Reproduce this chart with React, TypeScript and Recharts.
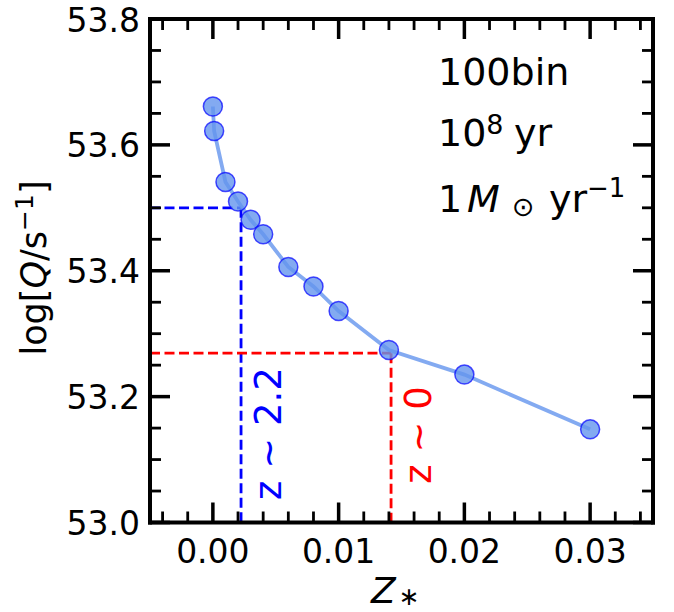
import { ComposedChart, Line, XAxis, YAxis, ReferenceLine } from "recharts";

// metallicity and ionising photon rate
const Z_STAR = [0.0, 0.0001, 0.001, 0.002, 0.003, 0.004, 0.006, 0.008, 0.01, 0.014, 0.02, 0.03];
const LOG_Q = [53.661, 53.622, 53.541, 53.51, 53.481, 53.458, 53.406, 53.375, 53.336, 53.274, 53.235, 53.148];

// the two redshift markers
const HIGH_Z = { z: 0.00224, q: 53.5 };
const LOW_Z = { z: 0.01417, q: 53.269 };

const X_DOMAIN = [-0.005, 0.035];
const Y_DOMAIN = [53.0, 53.8];
const X_TICKS = [-0.004, -0.002, 0, 0.002, 0.004, 0.006, 0.008, 0.01, 0.012, 0.014, 0.016, 0.018, 0.02, 0.022, 0.024, 0.026, 0.028, 0.03, 0.032, 0.034];
const Y_TICKS = [53.0, 53.05, 53.1, 53.15, 53.2, 53.25, 53.3, 53.35, 53.4, 53.45, 53.5, 53.55, 53.6, 53.65, 53.7, 53.75, 53.8];

const FONT = "DejaVu Sans";
const W = 674;
const H = 612;

const data = Z_STAR.map((z, i) => ({ z, logQ: LOG_Q[i] }));

const isMajorX = (v: number) => Math.abs(v * 100 - Math.round(v * 100)) < 1e-6;
const isMajorY = (v: number) => Math.abs(v * 5 - Math.round(v * 5)) < 1e-6;

const MAJOR = 20;
const MINOR = 11;

function BottomTick({ x, y, payload }: any) {
  const major = isMajorX(payload.value);
  return (
    <g>
      <line x1={x} y1={y} x2={x} y2={y - (major ? MAJOR : MINOR)} stroke="#000" strokeWidth={major ? 3.5 : 2.8} />
      {major && (
        <text x={x} y={y + 40.5} textAnchor="middle" fontFamily={FONT} fontSize={33} fill="#000">
          {payload.value.toFixed(2)}
        </text>
      )}
    </g>
  );
}

function TopTick({ x, y, payload }: any) {
  const major = isMajorX(payload.value);
  return <line x1={x} y1={y} x2={x} y2={y + (major ? MAJOR : MINOR)} stroke="#000" strokeWidth={major ? 3.5 : 2.8} />;
}

function LeftTick({ x, y, payload }: any) {
  const major = isMajorY(payload.value);
  return (
    <g>
      <line x1={x} y1={y} x2={x + (major ? MAJOR : MINOR)} y2={y} stroke="#000" strokeWidth={major ? 3.5 : 2.8} />
      {major && (
        <text x={x - 10} y={y + 12.5} textAnchor="end" fontFamily={FONT} fontSize={33} fill="#000">
          {payload.value.toFixed(1)}
        </text>
      )}
    </g>
  );
}

function RightTick({ x, y, payload }: any) {
  const major = isMajorY(payload.value);
  return <line x1={x} y1={y} x2={x - (major ? MAJOR : MINOR)} y2={y} stroke="#000" strokeWidth={major ? 3.5 : 2.8} />;
}

const frame = { stroke: "#000", strokeWidth: 4, strokeLinecap: "square" as const };

export default function App() {
  return (
    <div style={{ position: "absolute", left: 0, top: 0, width: W, height: H, background: "#fff" }}>
      <ComposedChart width={W} height={H} data={data} margin={{ top: 18, right: 20, bottom: 88.5, left: 149 }}>
        <XAxis xAxisId="b" dataKey="z" type="number" domain={X_DOMAIN} allowDataOverflow ticks={X_TICKS} interval={0}
          height={1} tickSize={0} tickMargin={0} tickLine={false} axisLine={frame} tick={<BottomTick />} />
        <XAxis xAxisId="t" orientation="top" dataKey="z" type="number" domain={X_DOMAIN} allowDataOverflow ticks={X_TICKS} interval={0}
          height={1} tickSize={0} tickMargin={0} tickLine={false} axisLine={frame} tick={<TopTick />} />
        <YAxis yAxisId="l" type="number" domain={Y_DOMAIN} allowDataOverflow ticks={Y_TICKS} interval={0}
          width={1} tickSize={0} tickMargin={0} tickLine={false} axisLine={frame} tick={<LeftTick />} />
        <YAxis yAxisId="r" orientation="right" type="number" domain={Y_DOMAIN} allowDataOverflow ticks={Y_TICKS} interval={0}
          width={1} tickSize={0} tickMargin={0} tickLine={false} axisLine={frame} tick={<RightTick />} />

        <ReferenceLine xAxisId="b" yAxisId="l" segment={[{ x: X_DOMAIN[0], y: HIGH_Z.q }, { x: HIGH_Z.z, y: HIGH_Z.q }]}
          stroke="#0000ff" strokeWidth={2.8} strokeDasharray="10 4.5" />
        <ReferenceLine xAxisId="b" yAxisId="l" segment={[{ x: HIGH_Z.z, y: HIGH_Z.q }, { x: HIGH_Z.z, y: Y_DOMAIN[0] }]}
          stroke="#0000ff" strokeWidth={2.8} strokeDasharray="10 4.5" />
        <ReferenceLine xAxisId="b" yAxisId="l" segment={[{ x: X_DOMAIN[0], y: LOW_Z.q }, { x: LOW_Z.z, y: LOW_Z.q }]}
          stroke="#ff0000" strokeWidth={2.8} strokeDasharray="10 4.5" />
        <ReferenceLine xAxisId="b" yAxisId="l" segment={[{ x: LOW_Z.z, y: LOW_Z.q }, { x: LOW_Z.z, y: Y_DOMAIN[0] }]}
          stroke="#ff0000" strokeWidth={2.8} strokeDasharray="10 4.5" />

        <Line xAxisId="b" yAxisId="l" type="linear" dataKey="logQ" isAnimationActive={false}
          stroke="#6495ED" strokeOpacity={0.8} strokeWidth={3.8}
          dot={{ r: 9.5, fill: "#6495ED", fillOpacity: 0.8, stroke: "#0000ff", strokeOpacity: 0.7, strokeWidth: 1.5 }}
          activeDot={false} />
      </ComposedChart>

      <svg width={W} height={H} style={{ position: "absolute", left: 0, top: 0, pointerEvents: "none" }} fontFamily={FONT}>
        {/* axis titles */}
        <text x={46} y={268} transform="rotate(-90 46 268)" textAnchor="middle" fontSize={35} fill="#000">
          log[<tspan fontStyle="italic">Q</tspan>/s<tspan fontSize={25} dy={-13}>−1</tspan><tspan dy={13}>]</tspan>
        </text>
        <text x={371} y={603} fontSize={36} fill="#000">
          <tspan fontStyle="italic">Z</tspan><tspan fontSize={25} dx={3} dy={2}>∗</tspan>
        </text>

        {/* model notes */}
        <text x={438} y={84.5} fontSize={38} fill="#000">100bin</text>
        <text x={438} y={146} fontSize={38} fill="#000">
          10<tspan fontSize={27} dy={-12}>8</tspan><tspan x={514} dy={12}>yr</tspan>
        </text>
        <text x={438} y={212} fontSize={38} fill="#000">
          1<tspan x={467} fontStyle="italic">M</tspan>
          <tspan x={512} fontSize={27} dy={4}>⊙</tspan>
          <tspan x={549} dy={-4}>yr</tspan>
          <tspan x={587} fontSize={26} dy={-15}>−1</tspan>
        </text>

        {/* redshift labels */}
        <text x={281} y={433.5} transform="rotate(-90 281 433.5)" textAnchor="middle" fontSize={37} fill="#0000ff">z ~ 2.2</text>
        <text x={431} y={435} transform="rotate(-90 431 435)" textAnchor="middle" fontSize={37} fill="#ff0000">z ~ 0</text>
      </svg>
    </div>
  );
}
